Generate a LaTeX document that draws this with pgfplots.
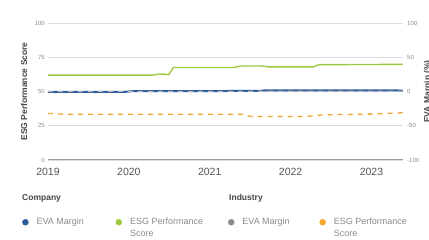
\documentclass[border=0pt]{standalone}
\usepackage{fontspec}
\setmainfont{Liberation Sans}
\usepackage{pgfplots}
\pgfplotsset{compat=1.18}
\definecolor{cBlue}{HTML}{2E5C9E}
\definecolor{cGreen}{HTML}{9CC93F}
\definecolor{cGray}{HTML}{8C8C8C}
\definecolor{cOrange}{HTML}{F2A531}
\definecolor{gridc}{HTML}{DCDCDC}
\definecolor{axc}{HTML}{9E9E9E}
\definecolor{txt}{HTML}{555555}
\definecolor{hdr}{HTML}{444444}
\definecolor{lgtxt}{HTML}{8A8A8A}
\begin{document}
\begin{tikzpicture}
\useasboundingbox (-48pt,-80pt) rectangle (381pt,160pt);
\begin{axis}[
  at={(0pt,0pt)}, anchor=south west,
  scale only axis, width=355pt, height=137pt,
  xmin=2019, xmax=2023.39, ymin=0, ymax=100,
  xtick={2019,2020,2021,2022,2023},
  ytick={0,25,50,75,100},
  ymajorgrids, grid style={gridc, line width=0.8pt},
  axis x line*=bottom, axis y line*=left,
  x axis line style={draw=axc, line width=1pt, -},
  y axis line style={draw=none},
  major tick length=0pt,
  /pgf/number format/.cd, 1000 sep={}, assume math mode=true, /pgfplots/.cd,
  xticklabel style={font=\fontsize{10.5}{12}\selectfont, text=txt, anchor=north, inner sep=0pt, yshift=-8.3pt},
  yticklabel style={font=\fontsize{6}{7}\selectfont, text=lgtxt, anchor=east, inner sep=0pt, xshift=-3pt},
  ylabel={ESG Performance Score},
  ylabel style={font=\bfseries\fontsize{8.5}{10}\selectfont, text=hdr, at={(axis description cs:-0.0676,0.5)}, anchor=center},
]
\addplot[cGreen, line width=1.4pt] coordinates {
(2019,62) (2020.30,62) (2020.38,62.8) (2020.45,62.6) (2020.49,62.2) (2020.55,67.5)
(2021.30,67.5) (2021.38,68.6) (2021.65,68.6) (2021.72,68) (2022.28,68) (2022.35,69.6) (2023.39,69.8)};
\addplot[cOrange, line width=1.3pt, dash pattern=on 5pt off 5pt] coordinates {
(2019,34) (2019.2,33.4) (2021.40,33.4) (2021.50,31.8) (2022.20,31.8) (2022.40,33) (2023,33.5) (2023.39,34.5)};
\end{axis}
\begin{axis}[
  at={(0pt,0pt)}, anchor=south west,
  scale only axis, width=355pt, height=137pt,
  xmin=2019, xmax=2023.39, ymin=-100, ymax=100,
  axis x line=none, axis y line*=right,
  y axis line style={draw=none},
  ytick={-100,-50,0,50,100},
  major tick length=0pt,
  /pgf/number format/.cd, assume math mode=true, /pgfplots/.cd,
  yticklabel style={font=\fontsize{6}{7}\selectfont, text=lgtxt, anchor=west, inner sep=0pt, xshift=4pt},
  ylabel={EVA Margin (\%)},
  ylabel style={font=\bfseries\fontsize{8.5}{10}\selectfont, text=hdr, at={(axis description cs:1.0704,0.5)}, anchor=center},
  legend columns=4,
  legend cell align=left,
  legend image code/.code={\fill[#1] (0pt,0pt) circle (3pt);},
  legend style={draw=none, fill=none, inner sep=0pt,
    at={(axis description cs:-0.0732,-0.409)}, anchor=north west,
    font=\fontsize{9}{11.5}\selectfont, text=lgtxt,
    /tikz/every odd column/.append style={column sep=6pt}},
]
\addlegendimage{cBlue}
\addlegendentry{\parbox[t]{77pt}{EVA Margin}}
\addlegendimage{cGreen}
\addlegendentry{\parbox[t]{96pt}{ESG Performance\\Score}}
\addlegendimage{cGray}
\addlegendentry{\parbox[t]{75pt}{EVA Margin}}
\addlegendimage{cOrange}
\addlegendentry{\parbox[t]{80pt}{ESG Performance\\Score}}
\addplot[cBlue, line width=2pt, forget plot] coordinates {
(2019,-0.5) (2019.95,-0.5) (2020.05,0.5) (2021.60,0.8) (2021.70,1.8) (2023.30,1.8) (2023.39,1)};
\addplot[cGray!60, line width=1.1pt, dash pattern=on 5pt off 5pt, forget plot] coordinates {
(2019,0) (2023.39,0.5)};
\end{axis}
\node[anchor=west, inner sep=0pt, font=\bfseries\fontsize{8.5}{10}\selectfont, text=hdr] at (-26pt,-38pt) {Company};
\node[anchor=west, inner sep=0pt, font=\bfseries\fontsize{8.5}{10}\selectfont, text=hdr] at (181pt,-38pt) {Industry};
\end{tikzpicture}
\end{document}
